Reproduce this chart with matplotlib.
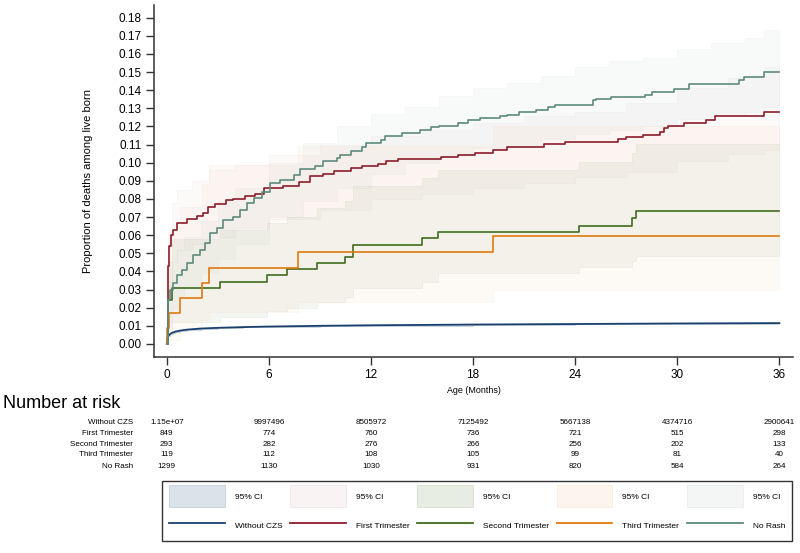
import numpy as np
import matplotlib
matplotlib.use("Agg")
import matplotlib.pyplot as plt
import matplotlib.transforms as mtransforms
from matplotlib.colors import to_rgba
from matplotlib.patches import Patch, Rectangle
from matplotlib.lines import Line2D
from matplotlib.legend_handler import HandlerPatch

plt.rcParams['font.family'] = ['Liberation Sans', 'DejaVu Sans']

# --- cumulative proportion of deaths (step curves, months) ---
nocz_t = [0, 0.02, 0.05, 0.1, 0.2, 0.35, 0.5, 0.8, 1.2, 2, 3, 4.5, 6, 9, 12, 18, 24, 30, 36]
nocz_y = [0, 0.0025, 0.0035, 0.0045, 0.0055, 0.0063, 0.0068, 0.0074, 0.0079, 0.0085,
          0.0089, 0.0093, 0.0096, 0.0100, 0.0103, 0.0107, 0.0110, 0.0113, 0.0115]

first_t = [0, 0.05, 0.1, 0.16, 0.23, 0.39, 0.59, 1.17, 1.76, 2.15, 2.45, 2.84, 3.5, 3.9,
           4.6, 5.2, 5.7, 6.85, 7.8, 8.4, 9.2, 9.8, 10.8, 11.5, 12.4, 12.9, 13.6, 16.1,
           17.1, 18.1, 19.2, 20.0, 22.15, 23.4, 26.5, 27.0, 28.0, 29.0, 29.2, 29.45,
           30.4, 31.7, 32.2, 35.1, 36]
first_y = [0, 0.025, 0.043, 0.054, 0.060, 0.063, 0.067, 0.069, 0.0707, 0.072, 0.0758,
           0.077, 0.0795, 0.080, 0.0817, 0.083, 0.086, 0.087, 0.0896, 0.0925, 0.094,
           0.0955, 0.097, 0.0983, 0.0994, 0.1007, 0.102, 0.1031, 0.1044, 0.1055, 0.1068,
           0.1088, 0.1104, 0.1115, 0.113, 0.1144, 0.1155, 0.117, 0.119, 0.1204, 0.1218,
           0.1237, 0.1255, 0.1277, 0.1277]

second_t = [0, 0.1, 0.29, 3.13, 5.9, 7.05, 8.8, 10.5, 10.96, 14.97, 15.95, 24.2, 27.36, 27.6, 36]
second_y = [0, 0.0243, 0.0307, 0.0344, 0.0381, 0.0412, 0.0447, 0.0482, 0.0547, 0.0584,
            0.0617, 0.0653, 0.0694, 0.0734, 0.0734]

third_t = [0, 0.04, 0.14, 0.78, 2.05, 2.5, 7.69, 19.2, 36]
third_y = [0, 0.0087, 0.0169, 0.0252, 0.0339, 0.0421, 0.0510, 0.0598, 0.0598]

rash_t = [0, 0.05, 0.1, 0.2, 0.39, 0.59, 0.88, 1.17, 1.56, 1.96, 2.25, 2.54, 2.94, 3.33,
          3.9, 4.3, 4.7, 5.1, 5.6, 6.07, 6.66, 7.45, 7.84, 8.7, 9.2, 10.0, 10.2, 10.85,
          11.45, 11.7, 12.6, 12.8, 13.85, 14.9, 15.5, 16.0, 17.1, 17.7, 18.4, 19.6, 20.0,
          20.7, 21.7, 22.4, 22.8, 25.05, 25.2, 26.1, 28.1, 28.5, 29.8, 30.7, 33.6, 33.9,
          35.1, 36]
rash_y = [0, 0.015, 0.024, 0.030, 0.0335, 0.038, 0.041, 0.0445, 0.049, 0.052, 0.0556,
          0.061, 0.0639, 0.0685, 0.0703, 0.074, 0.0777, 0.0804, 0.0841, 0.089, 0.0906,
          0.0933, 0.0966, 0.0983, 0.1007, 0.1025, 0.1044, 0.1062, 0.1089, 0.1108, 0.1126,
          0.1145, 0.1163, 0.1178, 0.1196, 0.1204, 0.1219, 0.1237, 0.1248, 0.1256, 0.1265,
          0.1277, 0.1288, 0.1306, 0.1319, 0.1346, 0.1354, 0.1361, 0.1374, 0.139, 0.1405,
          0.1434, 0.1456, 0.1474, 0.1501, 0.1501]

# --- 95% confidence bands ---
nocz_lo = [0, 0.0023, 0.0033, 0.0043, 0.0053, 0.0061, 0.0066, 0.0072, 0.0077, 0.0083,
           0.0087, 0.0091, 0.0094, 0.0098, 0.0101, 0.0105, 0.0108, 0.0111, 0.0113]
nocz_hi = [0, 0.0027, 0.0037, 0.0047, 0.0057, 0.0065, 0.0070, 0.0076, 0.0081, 0.0087,
           0.0091, 0.0095, 0.0098, 0.0102, 0.0105, 0.0109, 0.0112, 0.0115, 0.0117]

first_ci_t = [0, 0.1, 0.3, 0.6, 1.5, 2.5, 4, 6, 9, 12, 15, 18, 21, 24, 27, 30, 33, 35.1, 36]
first_lo = [0, 0.027, 0.046, 0.052, 0.055, 0.059, 0.064, 0.069, 0.074, 0.080, 0.083,
            0.086, 0.089, 0.092, 0.095, 0.101, 0.105, 0.107, 0.107]
first_hi = [0, 0.062, 0.078, 0.085, 0.090, 0.096, 0.099, 0.104, 0.110, 0.115, 0.118,
            0.122, 0.126, 0.128, 0.133, 0.141, 0.147, 0.153, 0.153]

second_lo = [0, 0.008, 0.012, 0.015, 0.018, 0.020, 0.023, 0.026, 0.031, 0.034, 0.0394,
             0.0423, 0.0455, 0.0484, 0.0484]
second_hi = [0, 0.045, 0.058, 0.063, 0.0666, 0.070, 0.075, 0.079, 0.087, 0.0915, 0.0961,
             0.1005, 0.1053, 0.1104, 0.1104]

third_lo = [0, 0.0005, 0.002, 0.0087, 0.0133, 0.0179, 0.0234, 0.0298, 0.0298]
third_hi = [0, 0.045, 0.061, 0.0758, 0.088, 0.0985, 0.109, 0.1205, 0.1205]

rash_ci_t = [0, 0.1, 0.3, 0.6, 1, 2, 3, 4, 6, 8, 10, 12, 14, 16, 18, 20, 22, 24, 26, 28,
             30, 32, 34, 35.1, 36]
rash_lo = [0, 0.012, 0.020, 0.026, 0.031, 0.039, 0.047, 0.055, 0.070, 0.079, 0.086, 0.094,
           0.100, 0.104, 0.108, 0.110, 0.113, 0.116, 0.118, 0.120, 0.124, 0.126, 0.128,
           0.131, 0.131]
rash_hi = [0, 0.035, 0.045, 0.052, 0.059, 0.068, 0.079, 0.086, 0.100, 0.111, 0.120, 0.127,
           0.131, 0.137, 0.141, 0.144, 0.148, 0.153, 0.156, 0.158, 0.163, 0.166, 0.169,
           0.173, 0.173]

# --- number at risk table ---
risk_times = [0, 6, 12, 18, 24, 30, 36]
risk_groups = ["Without CZS", "First Trimester", "Second Trimester", "Third Trimester", "No Rash"]
risk_nocz = ["1.15e+07", "9997496", "8505972", "7125492", "5667138", "4374716", "2900641"]
risk_first = [849, 774, 760, 736, 721, 515, 298]
risk_second = [293, 282, 276, 266, 256, 202, 133]
risk_third = [119, 112, 108, 105, 99, 81, 40]
risk_rash = [1299, 1130, 1030, 931, 820, 584, 264]

c_nocz = '#1a406e'
c_first = '#8c1d2a'
c_second = '#3e6b1e'
c_third = '#e07a10'
c_rash = '#5e8b7e'

fig = plt.figure(figsize=(8, 5.53), dpi=100)
ax = fig.add_axes([154/800, 1 - 357/553, (793 - 154)/800, (357 - 5)/553])

# (times, lower, upper, colour, fill alpha, legend alpha)
bands = [
    (nocz_t, nocz_lo, nocz_hi, c_nocz, 0.15, 0.15),
    (first_ci_t, first_lo, first_hi, c_first, 0.025, 0.05),
    (second_t, second_lo, second_hi, c_second, 0.055, 0.12),
    (third_t, third_lo, third_hi, c_third, 0.035, 0.07),
    (rash_ci_t, rash_lo, rash_hi, c_rash, 0.04, 0.07),
]
patches = []
for t, lo, hi, col, a, la in bands:
    ax.fill_between(t, lo, hi, step='post', facecolor=to_rgba(col, a),
                    edgecolor=to_rgba(col, a * 1.2), linewidth=0.6)
    patches.append(Patch(facecolor=to_rgba(col, la), edgecolor=to_rgba(col, la + 0.04),
                         linewidth=0.6))

ax.plot(nocz_t, nocz_y, color=c_nocz, lw=1.3)
ax.step(first_t, first_y, where='post', color=c_first, lw=1.2)
ax.step(second_t, second_y, where='post', color=c_second, lw=1.2)
ax.step(third_t, third_y, where='post', color=c_third, lw=1.2)
ax.step(rash_t, rash_y, where='post', color=c_rash, lw=1.2)

ax.set_xlim(-0.75, 36.8)
ax.set_ylim(-0.0072, 0.187)
ax.set_xticks(risk_times)
ax.set_yticks(np.arange(0, 0.181, 0.01))
ax.yaxis.set_major_formatter(matplotlib.ticker.FormatStrFormatter('%.2f'))
ax.tick_params(axis='both', direction='out', length=6, width=1, color='#333333',
               labelsize=8.5, pad=3)
for s in ['top', 'right']:
    ax.spines[s].set_visible(False)
for s in ['left', 'bottom']:
    ax.spines[s].set_color('#333333')
    ax.spines[s].set_linewidth(1.1)
ax.set_ylabel("Proportion of deaths among live born", fontsize=8, labelpad=18)
ax.set_xlabel("Age (Months)", fontsize=6.4, labelpad=3)

# number at risk
fig.text(3/800, 1 - 403/553, "Number at risk", fontsize=13, va='center', ha='left')
trans = mtransforms.blended_transform_factory(ax.transData, fig.transFigure)
rows = [risk_nocz, risk_first, risk_second, risk_third, risk_rash]
row_y = [422.7, 433.3, 444, 454.7, 466]
for name, vals, yp in zip(risk_groups, rows, row_y):
    fy = 1 - yp/553
    fig.text(133/800, fy, name, fontsize=5.8, ha='right', va='center')
    for tt, v in zip(risk_times, vals):
        ax.text(tt, fy, str(v), transform=trans, fontsize=5.8, ha='center', va='center')


# slightly taller legend swatches than the row height
def tall_patch(legend, orig_handle, xdescent, ydescent, width, height, fontsize):
    return Rectangle((-xdescent, -ydescent - 2), width, height + 4)


# legend
lines = [Line2D([], [], color=c, lw=1.3) for c in [c_nocz, c_first, c_second, c_third, c_rash]]
handles, labels = [], []
for p, l, name in zip(patches, lines, risk_groups):
    handles += [p, l]
    labels += ["95% CI", name]
leg = fig.legend(handles, labels, ncol=5, loc='upper left',
                 bbox_to_anchor=(162/800, 1 - 481/553), borderaxespad=0, fontsize=6,
                 handlelength=6.7, handleheight=2.6, handletextpad=1.2,
                 columnspacing=0.9, labelspacing=1.6, borderpad=0.85,
                 frameon=True, fancybox=False, edgecolor='black',
                 handler_map={Patch: HandlerPatch(patch_func=tall_patch)})
leg.get_frame().set_linewidth(1.0)

fig.savefig("out.png", dpi=100)
